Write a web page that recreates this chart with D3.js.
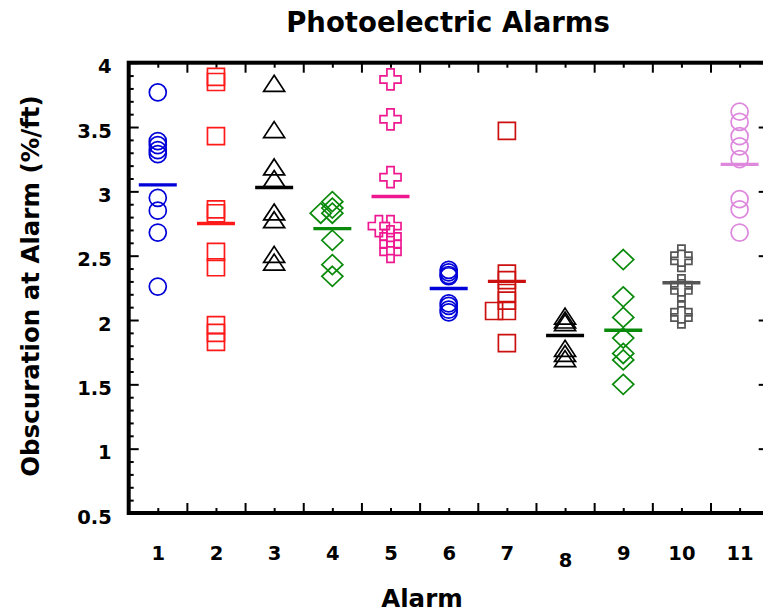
<!DOCTYPE html>
<html>
<head>
<meta charset="utf-8">
<script src="https://cdn.jsdelivr.net/npm/d3@7/dist/d3.min.js"></script>
<style>
  body { margin: 0; background: #fff; }
  svg text { font-family: "DejaVu Sans", sans-serif; font-weight: bold; fill: #000; }
</style>
</head>
<body>
<svg width="763" height="613"></svg>
<script>
// alarm categories and tick labels
var alarms = [1, 2, 3, 4, 5, 6, 7, 8, 9, 10, 11];
var xTickLabels = ["1", "2", "3", "4", "5", "6", "7", "8", "9", "10", "11"];
var yTickValues = [0.5, 1, 1.5, 2, 2.5, 3, 3.5, 4];
var yTickLabels = ["0.5", "1", "1.5", "2", "2.5", "3", "3.5", "4"];

// obscuration readings per alarm (%/ft)
var alarm1  = [3.77, 3.39, 3.36, 3.32, 3.29, 2.95, 2.85, 2.68, 2.26];
var alarm2  = [3.89, 3.85, 3.43, 2.86, 2.83, 2.53, 2.41, 1.96, 1.90, 1.83];
var alarm3  = [3.84, 3.48, 3.19, 3.10, 2.84, 2.78, 2.51, 2.45];
var alarm4  = [2.92, 2.87, 2.83, 2.83, 2.62, 2.43, 2.34];
var alarm5  = [3.87, 3.56, 3.11, 2.73, 2.73, 2.65, 2.59, 2.53];
var alarm6  = [2.39, 2.37, 2.35, 2.34, 2.13, 2.11, 2.08, 2.06];
var alarm7  = [3.47, 2.36, 2.31, 2.21, 2.15, 2.07, 2.07, 1.82];
var alarm8  = [2.03, 2.00, 1.98, 1.78, 1.74, 1.70];
var alarm9  = [2.47, 2.18, 2.02, 1.86, 1.74, 1.69, 1.50];
var alarm10 = [2.50, 2.46, 2.27, 2.23, 2.06, 2.02];
var alarm11 = [3.62, 3.54, 3.43, 3.35, 3.25, 2.94, 2.86, 2.68];
var readings = [alarm1, alarm2, alarm3, alarm4, alarm5, alarm6, alarm7, alarm8, alarm9, alarm10, alarm11];

// mean per alarm (the horizontal bars)
var means = [3.05, 2.75, 3.03, 2.71, 2.96, 2.245, 2.30, 1.88, 1.92, 2.29, 3.21];

// points nudged sideways in the original: [alarm, point index, x shift in alarm units]
var jitter = [[4, 3, -0.2], [5, 3, -0.2], [7, 5, -0.22]];

var shapes = ["circle", "square", "triangle", "diamond", "cross", "circle", "square", "triangle", "diamond", "cross", "circle"];
var colors = ["#0000d8", "#ff1a1a", "#000000", "#0a8a0a", "#ee1890", "#0000d8", "#cc1010", "#000000", "#0a8a0a", "#555555", "#dd88dd"];

var svg = d3.select("svg");
var plotLeft = 128.7, plotRight = 768.7, plotTop = 62.7, plotBottom = 513;

var x = d3.scaleLinear().domain([0.5, 11.5]).range([plotLeft, plotRight]);
var y = d3.scaleLinear().domain([0.5, 4]).range([plotBottom, plotTop]);

function shapePath(s) {
    if (s == "circle") return d3.symbol().type(d3.symbolCircle).size(Math.PI * 8.5 * 8.5)();
    if (s == "square") return "M-8.5,-8.5H8.5V8.5H-8.5Z";
    if (s == "triangle") return "M0,-8L10.5,8H-10.5Z";
    if (s == "diamond") return "M0,-10L10.5,0L0,10L-10.5,0Z";
    // outlined plus
    var a = 10.5, w = 3.6;
    return "M" + -w + "," + -a + "H" + w + "V" + -w + "H" + a + "V" + w + "H" + w + "V" + a +
           "H" + -w + "V" + w + "H" + -a + "V" + -w + "H" + -w + "Z";
}

// ticks, all pointing inward
var minorY = d3.range(5, 41).map(function(d) { return d / 10; }).filter(function(d) { return yTickValues.indexOf(d) < 0; });
var halfX = d3.range(1, 11).map(function(d) { return d + 0.5; });

function tickStyle(g) {
    g.select(".domain").remove();
    g.selectAll("line").attr("stroke", "#000").attr("stroke-width", 2);
}

svg.append("g").attr("transform", "translate(0," + plotBottom + ")")
    .call(d3.axisBottom(x).tickValues(alarms).tickSize(-5).tickPadding(33)
        .tickFormat(function(d, i) { return xTickLabels[i]; }))
    .call(tickStyle)
    .call(function(g) {
        g.selectAll("text").style("font-size", "19.5px").attr("font-family", null)
            .attr("dy", function(d) { return d == 8 ? "1.1em" : "0.71em"; });
    });
svg.append("g").attr("transform", "translate(0," + plotBottom + ")")
    .call(d3.axisBottom(x).tickValues(halfX).tickSize(-10).tickFormat(""))
    .call(tickStyle);

svg.append("g").attr("transform", "translate(0," + plotTop + ")")
    .call(d3.axisTop(x).tickValues(alarms).tickSize(-5).tickFormat(""))
    .call(tickStyle);
svg.append("g").attr("transform", "translate(0," + plotTop + ")")
    .call(d3.axisTop(x).tickValues(halfX).tickSize(-10).tickFormat(""))
    .call(tickStyle);

svg.append("g").attr("transform", "translate(" + plotLeft + ",0)")
    .call(d3.axisLeft(y).tickValues(yTickValues).tickSize(-10).tickPadding(17)
        .tickFormat(function(d, i) { return yTickLabels[i]; }))
    .call(tickStyle)
    .call(function(g) {
        g.selectAll("text").style("font-size", "19.5px").attr("font-family", null).attr("y", 4);
    });
svg.append("g").attr("transform", "translate(" + plotLeft + ",0)")
    .call(d3.axisLeft(y).tickValues(minorY).tickSize(-5).tickFormat(""))
    .call(tickStyle);

svg.append("g").attr("transform", "translate(" + plotRight + ",0)")
    .call(d3.axisRight(y).tickValues(yTickValues).tickSize(-10).tickFormat(""))
    .call(tickStyle);
svg.append("g").attr("transform", "translate(" + plotRight + ",0)")
    .call(d3.axisRight(y).tickValues(minorY).tickSize(-5).tickFormat(""))
    .call(tickStyle);

// frame
svg.append("rect")
    .attr("x", plotLeft).attr("y", plotTop)
    .attr("width", plotRight - plotLeft).attr("height", plotBottom - plotTop)
    .attr("fill", "none").attr("stroke", "#000").attr("stroke-width", 4);

// markers
var points = [];
readings.forEach(function(vals, i) {
    vals.forEach(function(v, j) {
        var dx = 0;
        jitter.forEach(function(t) { if (t[0] == alarms[i] && t[1] == j) dx = t[2]; });
        points.push({ alarm: alarms[i], value: v, dx: dx, k: i });
    });
});

svg.append("g").selectAll("path")
    .data(points)
    .enter().append("path")
    .attr("transform", function(d) { return "translate(" + x(d.alarm + d.dx) + "," + y(d.value) + ")"; })
    .attr("d", function(d) { return shapePath(shapes[d.k]); })
    .attr("fill", "none")
    .attr("stroke", function(d) { return colors[d.k]; })
    .attr("stroke-width", 1.7);

// mean bars
svg.append("g").selectAll("line")
    .data(means)
    .enter().append("line")
    .attr("x1", function(d, i) { return x(alarms[i]) - 19; })
    .attr("x2", function(d, i) { return x(alarms[i]) + 19; })
    .attr("y1", function(d) { return y(d); })
    .attr("y2", function(d) { return y(d); })
    .attr("stroke", function(d, i) { return colors[i]; })
    .attr("stroke-width", 3.4);

// titles
svg.append("text")
    .attr("x", 448).attr("y", 32)
    .attr("text-anchor", "middle")
    .style("font-size", "27.5px")
    .text("Photoelectric Alarms");

svg.append("text")
    .attr("x", 422).attr("y", 607)
    .attr("text-anchor", "middle")
    .style("font-size", "24.5px")
    .text("Alarm");

svg.append("text")
    .attr("transform", "translate(39,286) rotate(-90)")
    .attr("text-anchor", "middle")
    .style("font-size", "24.5px")
    .text("Obscuration at Alarm (%/ft)");
</script>
</body>
</html>
